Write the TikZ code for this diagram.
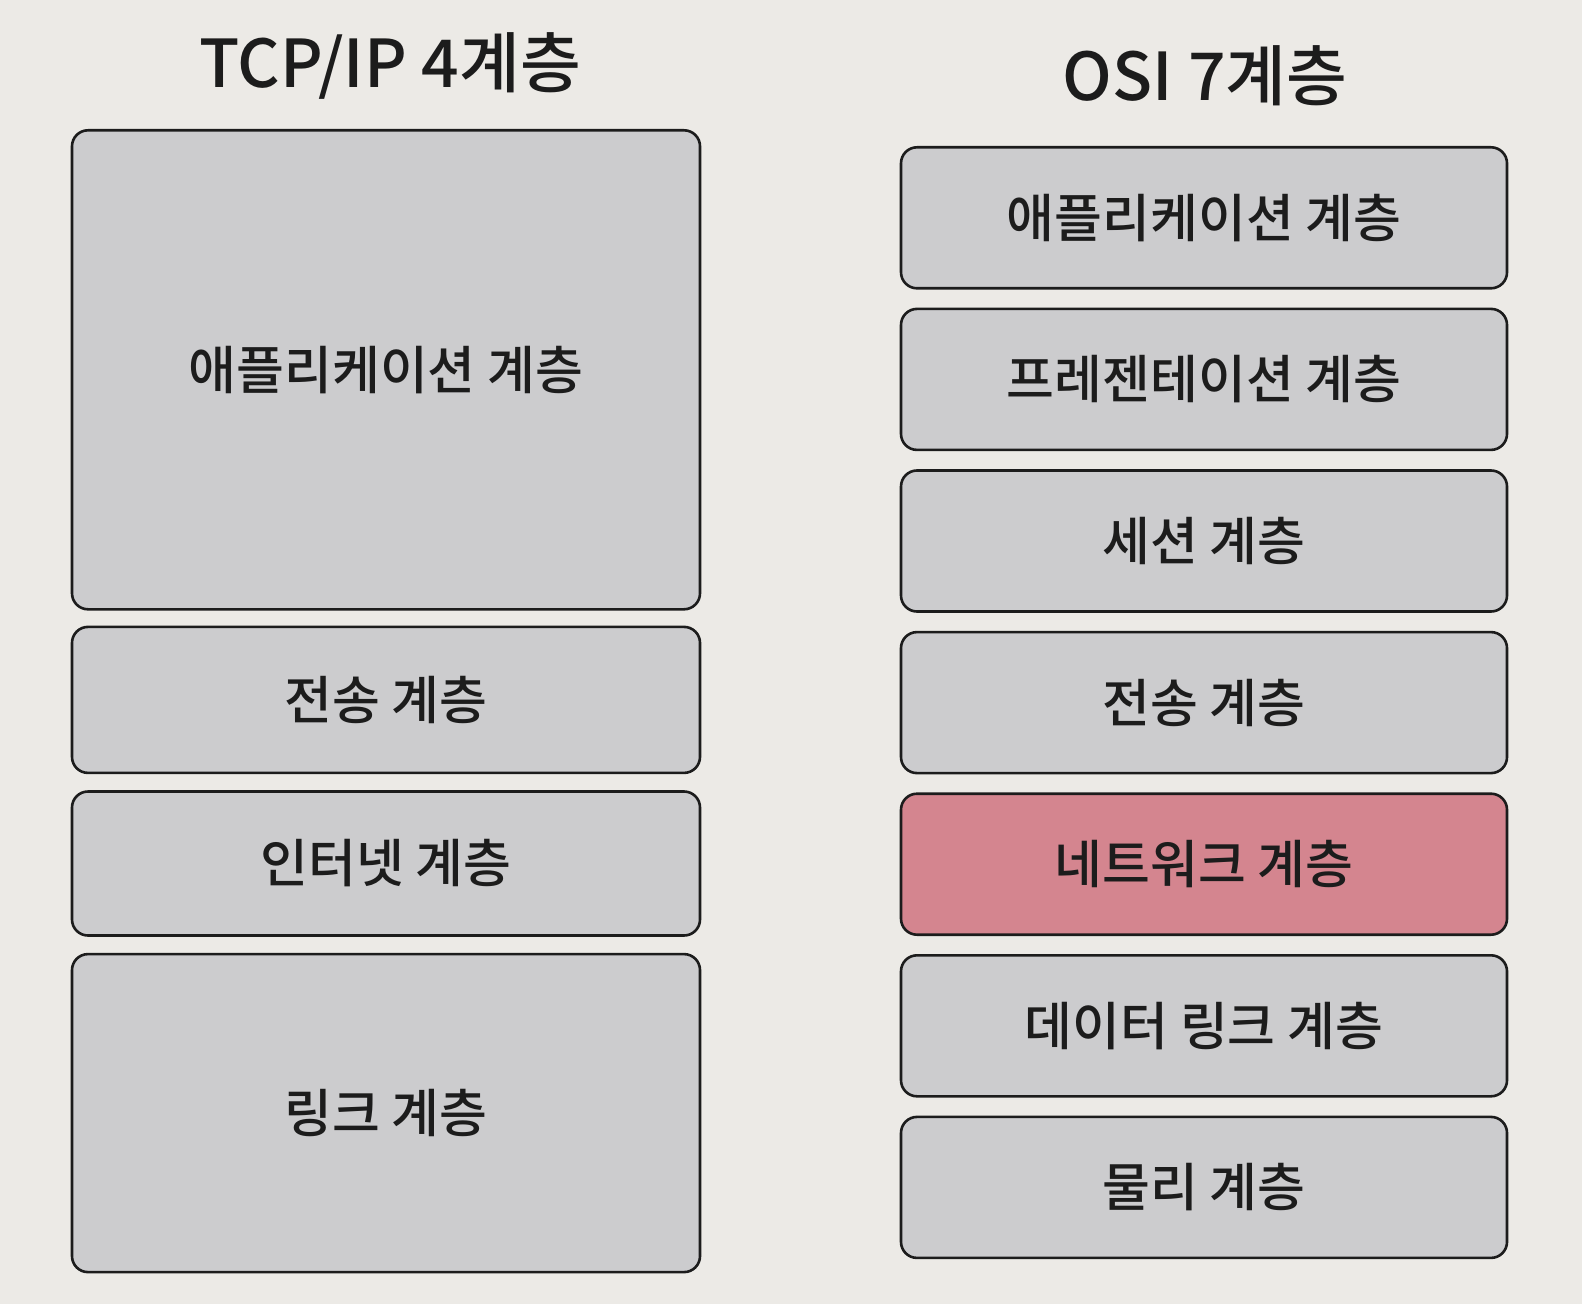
\documentclass[tikz,border=0pt]{standalone}
\usepackage{fontspec}
\setmainfont{Noto Sans CJK KR}[BoldFont={Noto Sans CJK KR Medium}]
\usetikzlibrary{positioning}
\definecolor{paper}{HTML}{ECEAE6}
\definecolor{layergray}{HTML}{CCCCCE}
\definecolor{layerpink}{HTML}{D4858F}
\definecolor{ink}{HTML}{1C1C1C}

\begin{document}
\begin{tikzpicture}[x=0.5pt, y=-0.5pt, font=\fontsize{26}{30}\selectfont\bfseries, text=ink]
  % Define styles
  \tikzstyle{layer}=[rectangle, rounded corners=8pt, draw=ink, line width=1.3pt, fill=layergray, inner sep=0pt]
  \tikzstyle{tcplayer}=[layer, minimum width=314pt]
  \tikzstyle{osilayer}=[layer, minimum width=303pt, minimum height=70.5pt]
  \tikzstyle{title}=[font=\fontsize{33}{38}\selectfont\bfseries]

  % Page
  \useasboundingbox (0,0) rectangle (1582,1304);
  \fill[paper] (0,0) rectangle (1582,1304);

  % Titles
  \node[title] (tcptitle) at (390,66) {TCP/IP 4계층};
  \node[title] (osititle) at (1205,76) {OSI 7계층};

  % TCP/IP column
  \node[tcplayer, minimum height=239.5pt, anchor=north] (tcpApp) at (386,129) {애플리케이션 계층};
  \node[tcplayer, minimum height=73pt, below=7.5pt of tcpApp]     (tcpTrans) {전송 계층};
  \node[tcplayer, minimum height=72pt, below=8pt of tcpTrans]     (tcpNet)   {인터넷 계층};
  \node[tcplayer, minimum height=159pt, below=8pt of tcpNet]      (tcpLink)  {링크 계층};

  % OSI column
  \node[osilayer, anchor=north] (osiApp) at (1204,146) {애플리케이션 계층};
  \node[osilayer, below=9pt of osiApp]     (osiPres)    {프레젠테이션 계층};
  \node[osilayer, below=9pt of osiPres]    (osiSession) {세션 계층};
  \node[osilayer, below=9pt of osiSession] (osiTrans)   {전송 계층};
  \node[osilayer, fill=layerpink, below=9pt of osiTrans] (osiNet) {네트워크 계층};
  \node[osilayer, below=9pt of osiNet]     (osiLink)    {데이터 링크 계층};
  \node[osilayer, below=9pt of osiLink]    (osiPhys)    {물리 계층};
\end{tikzpicture}
\end{document}
